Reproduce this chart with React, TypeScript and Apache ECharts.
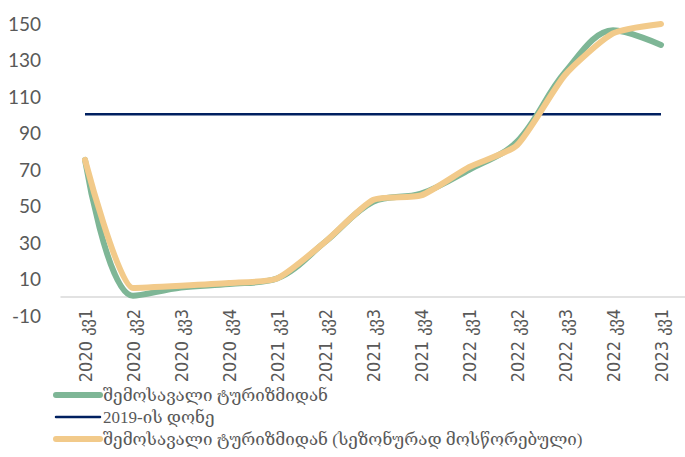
import React, { useEffect, useRef } from "react";
import * as echarts from "echarts";

const categories = [
  "2020 კვ1", "2020 კვ2", "2020 კვ3", "2020 კვ4",
  "2021 კვ1", "2021 კვ2", "2021 კვ3", "2021 კვ4",
  "2022 კვ1", "2022 კვ2", "2022 კვ3", "2022 კვ4",
  "2023 კვ1",
];
const tourismIncome = [75, 0.5, 5, 7, 10, 30, 52, 56.5, 69.5, 85, 123, 146, 138];
const level2019 = [100, 100, 100, 100, 100, 100, 100, 100, 100, 100, 100, 100, 100];
const tourismIncomeSA = [75, 4.8, 6, 7.5, 10, 30, 53, 55.5, 71, 83, 121.5, 144.3, 149.5];

const seriesNames = [
  "შემოსავალი ტურიზმიდან",
  "2019-ის დონე",
  "შემოსავალი ტურიზმიდან (სეზონურად მოსწორებული)",
];
const seriesColors = ["#7EB696", "#002060", "#F2CA8A"];
const legendWidths = [6, 2.5, 6];

export default function App() {
  const ref = useRef<HTMLDivElement>(null);
  useEffect(() => {
    if (!ref.current) return;
    const chart = echarts.init(ref.current, undefined, { renderer: "svg" });
    chart.setOption({
      animation: false,
      grid: { left: 61, right: -12, top: 23, bottom: 142, containLabel: false },
      legend: {
        orient: "vertical",
        left: 53,
        top: 384,
        padding: 0,
        height: 80,
        itemWidth: 44,
        itemHeight: 2,
        itemGap: 0,
        data: seriesNames.map((n, i) => ({
          name: n,
          lineStyle: { width: legendWidths[i], color: seriesColors[i], cap: "round" },
        })),
        textStyle: {
          fontFamily: "'Liberation Serif', 'DejaVu Serif', serif",
          fontSize: 17,
          color: "#595959",
          lineHeight: 22,
          padding: [0, 0, 0, -2],
        },
      },
      xAxis: {
        type: "category",
        data: categories,
        boundaryGap: true,
        axisLine: { onZero: true, lineStyle: { color: "#D9D9D9", width: 1.5 } },
        axisTick: { show: false },
        axisLabel: {
          rotate: 90,
          interval: 0,
          margin: -6,
          fontFamily: "'Liberation Sans Narrow', 'DejaVu Sans Condensed', sans-serif",
          fontSize: 18,
          color: "#595959",
        },
      },
      yAxis: {
        type: "value",
        min: -10,
        max: 150,
        interval: 20,
        axisLine: { show: false },
        axisTick: { show: false },
        splitLine: { show: false },
        axisLabel: {
          margin: 20,
          fontFamily: "Lato, 'Liberation Sans', sans-serif",
          fontSize: 19,
          color: "#595959",
        },
      },
      series: [
        {
          name: seriesNames[0],
          type: "line",
          data: tourismIncome,
          smooth: 0.35,
          symbol: "none",
          z: 2,
          lineStyle: { color: seriesColors[0], width: 6, cap: "round" },
          itemStyle: { color: seriesColors[0] },
        },
        {
          name: seriesNames[1],
          type: "line",
          data: level2019,
          symbol: "none",
          z: 1,
          lineStyle: { color: seriesColors[1], width: 2.5 },
          itemStyle: { color: seriesColors[1] },
        },
        {
          name: seriesNames[2],
          type: "line",
          data: tourismIncomeSA,
          smooth: 0.2,
          symbol: "none",
          z: 3,
          lineStyle: { color: seriesColors[2], width: 6, cap: "round" },
          itemStyle: { color: seriesColors[2] },
        },
      ],
    });
    return () => chart.dispose();
  }, []);
  return <div ref={ref} style={{ width: 685, height: 457, position: "absolute", left: 0, top: 0 }} />;
}
